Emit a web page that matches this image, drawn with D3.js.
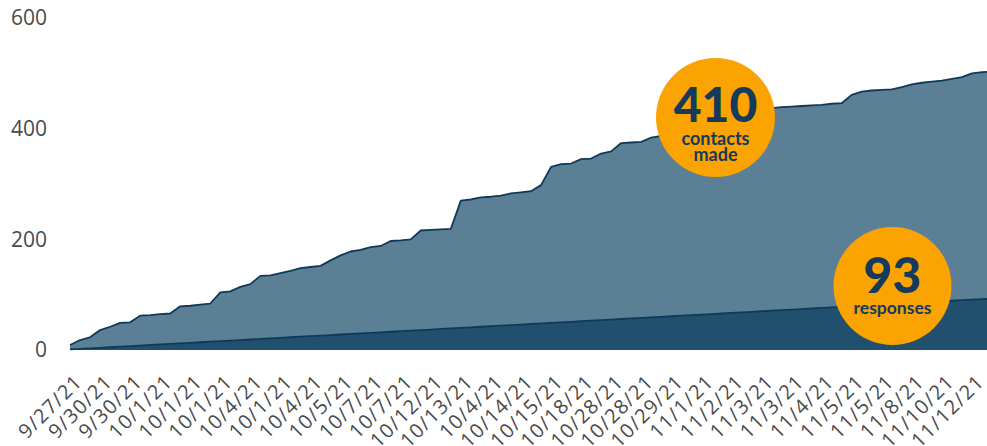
<!DOCTYPE html>
<html>
<head>
<meta charset="utf-8">
<script src="https://cdn.jsdelivr.net/npm/d3@7.9.0/dist/d3.min.js"></script>
<style>
  body { margin: 0; background: #fff; }
  svg { display: block; }
</style>
</head>
<body>
<svg id="chart" width="987" height="446"></svg>
<script>
// x tick labels, one for every third row
const tickLabels = ['9/27/21', '9/30/21', '9/30/21', '10/1/21', '10/1/21', '10/1/21', '10/4/21',
  '10/1/21', '10/4/21', '10/5/21', '10/7/21', '10/7/21', '10/12/21', '10/13/21', '10/4/21',
  '10/14/21', '10/15/21', '10/18/21', '10/28/21', '10/28/21', '10/29/21', '11/1/21', '11/2/21',
  '11/3/21', '11/3/21', '11/4/21', '11/5/21', '11/5/21', '11/8/21', '11/10/21', '11/12/21'];

// cumulative responses
const responses = [1, 2, 3, 4, 5, 6, 7, 8, 9, 10, 11, 12, 13, 14, 15, 16, 17, 18, 19, 20,
  21, 22, 23, 24, 25, 26, 27, 28, 29, 30, 31, 32, 33, 34, 35, 36, 37, 38, 39, 40,
  41, 42, 43, 44, 45, 46, 47, 48, 49, 50, 51, 52, 53, 54, 55, 56, 57, 58, 59, 60,
  61, 62, 63, 64, 65, 66, 67, 68, 69, 70, 71, 72, 73, 74, 75, 76, 77, 78, 79, 80,
  81, 82, 83, 84, 85, 86, 87, 88, 89, 90, 91, 92, 93];

// cumulative contacts made (stacked on top of responses)
const contacts = [8, 16, 20, 32, 37, 43, 43, 54, 54, 55,
  55, 67, 67, 68, 69, 88, 89, 96, 100, 114,
  114, 117, 120, 124, 125, 126, 135, 143, 149, 151,
  155, 156, 164, 164, 165, 180, 180, 180, 180, 230,
  231, 234, 234, 235, 238, 239, 240, 250, 282, 286,
  286, 293, 293, 301, 304, 318, 318, 318, 325, 327,
  330, 333, 338, 340, 345, 348, 352, 356, 360, 363,
  366, 367, 367, 367, 367, 367, 368, 368, 382, 387,
  388, 388, 388, 391, 395, 397, 398, 399, 401, 403,
  409, 410, 410];

const yTicks = [0, 200, 400, 600];

// callout bubbles
const calloutValues = ['410', '93'];
const calloutWords = [['contacts', 'made'], ['responses']];

const svg = d3.select('#chart');

const table = responses.map((r, i) => ({ i: i, responses: r, contacts: contacts[i] }));
const series = d3.stack().keys(['responses', 'contacts'])(table);

const x = d3.scaleLinear().domain([0, responses.length - 1]).range([70, 992]);
const y = d3.scaleLinear().domain([0, 600]).range([350, 18]);

const fills = ['#21506e', '#5b7f95'];

const area = d3.area()
  .x(d => x(d.data.i))
  .y0(d => y(d[0]))
  .y1(d => y(d[1]));

const topLine = d3.line()
  .x(d => x(d.data.i))
  .y(d => y(d[1]));

// draw upper layer first so the darker one sits on top
svg.selectAll('path.layer')
  .data(series.slice().reverse())
  .join('path')
  .attr('class', 'layer')
  .attr('d', area)
  .attr('fill', (d) => fills[d.index]);

svg.selectAll('path.edge')
  .data(series)
  .join('path')
  .attr('class', 'edge')
  .attr('d', topLine)
  .attr('fill', 'none')
  .attr('stroke', '#0e3a5a')
  .attr('stroke-width', 1.8)
  .attr('stroke-linejoin', 'round');

// y axis
const yAxis = svg.append('g')
  .attr('transform', 'translate(47,0)')
  .call(d3.axisLeft(y).tickValues(yTicks).tickSize(0).tickPadding(0));
yAxis.select('.domain').remove();
yAxis.selectAll('text')
  .attr('fill', '#4a4a4a')
  .style('font-family', '"Open Sans", sans-serif')
  .style('font-size', '21px');

// x axis, labels every third row, rotated
const xAxis = svg.append('g')
  .attr('transform', 'translate(0,350)')
  .call(d3.axisBottom(x)
    .tickValues(d3.range(0, responses.length, 3))
    .tickFormat((d, i) => tickLabels[i])
    .tickSize(0));
xAxis.select('.domain').remove();
xAxis.selectAll('text')
  .attr('x', 0)
  .attr('y', 0)
  .attr('dy', 0)
  .attr('transform', 'translate(13,33) rotate(-45)')
  .style('text-anchor', 'end')
  .attr('fill', '#4a4a4a')
  .style('font-family', '"Open Sans", sans-serif')
  .style('letter-spacing', '1.2px')
  .style('font-size', '20px');

// callouts
const bubbles = [
  { cx: 715.5, cy: 117.5, r: 59.5, numY: 122, numSize: 48, wordY: [145, 161], wordSize: 18 },
  { cx: 892.5, cy: 286, r: 59, numY: 293, numSize: 50, wordY: [313.5], wordSize: 17.5 }
];

bubbles.forEach((b, k) => {
  const g = svg.append('g');
  g.append('circle')
    .attr('cx', b.cx).attr('cy', b.cy).attr('r', b.r)
    .attr('fill', '#fba300');
  g.append('text')
    .attr('x', b.cx).attr('y', b.numY)
    .attr('text-anchor', 'middle')
    .attr('fill', '#163a5c')
    .style('font-family', 'Lato, sans-serif')
    .style('font-weight', 900)
    .style('font-size', b.numSize + 'px')
    .text(calloutValues[k]);
  calloutWords[k].forEach((w, j) => {
    g.append('text')
      .attr('x', b.cx).attr('y', b.wordY[j])
      .attr('text-anchor', 'middle')
      .attr('fill', '#163a5c')
      .style('font-family', 'Lato, sans-serif')
      .style('font-weight', 700)
      .style('font-size', b.wordSize + 'px')
      .text(w);
  });
});
</script>
</body>
</html>
